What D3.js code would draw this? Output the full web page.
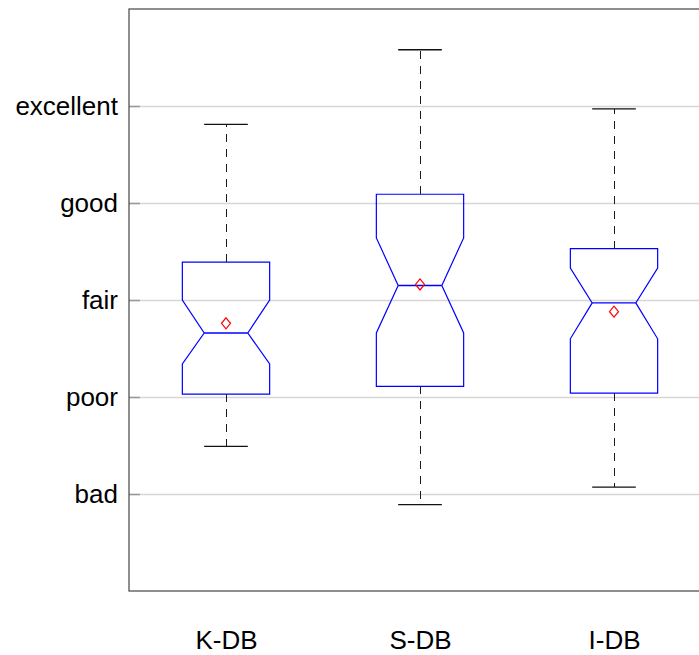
<!DOCTYPE html>
<html>
<head>
<meta charset="utf-8">
<script src="https://cdn.jsdelivr.net/npm/d3@7"></script>
<style>
  body { margin: 0; background: #fff; }
  svg { display: block; font-family: "Liberation Sans", Arial, sans-serif; }
</style>
</head>
<body>
<svg id="chart" width="699" height="655"></svg>
<script>
// data (rating scale: 1 = bad ... 5 = excellent)
var categories = ["K-DB", "S-DB", "I-DB"];
var upperWhisker = [4.81, 5.58, 4.97];
var q3 = [3.39, 4.09, 3.53];
var notchHigh = [3.00, 3.64, 3.33];
var median = [2.66, 3.15, 2.97];
var notchLow = [2.34, 2.66, 2.60];
var q1 = [2.03, 2.11, 2.04];
var lowerWhisker = [1.49, 0.89, 1.07];
var mean = [2.76, 3.16, 2.88];

var ratingTicks = [1, 2, 3, 4, 5];
var ratingLabels = ["bad", "poor", "fair", "good", "excellent"];

var svg = d3.select("#chart");

// plot area runs past the right edge of the window
var plotLeft = 129, plotTop = 9, plotRight = 711, plotBottom = 591;

var x = d3.scaleLinear().domain([0.5, 3.5]).range([plotLeft, plotRight]);
var y = d3.scaleLinear().domain([0, 6]).range([plotBottom, plotTop]);

var boxHalf = 0.225;   // half box width, x units
var notchIn = 0.5;     // notch waist as fraction of box width

// grid lines
svg.append("g")
    .attr("transform", "translate(" + plotLeft + ",0)")
    .call(d3.axisLeft(y).tickValues(ratingTicks).tickSize(-(plotRight - plotLeft)).tickFormat(""))
    .call(function (g) {
        g.select(".domain").remove();
        g.selectAll("line").attr("stroke", "#d6d6d6").attr("stroke-width", 1.5);
    });

// y labels + inward ticks
svg.append("g")
    .attr("transform", "translate(" + plotLeft + ",0)")
    .call(d3.axisLeft(y).tickValues(ratingTicks).tickSize(-11).tickPadding(11)
        .tickFormat(function (d, i) { return ratingLabels[i]; }))
    .call(function (g) {
        g.select(".domain").remove();
        g.selectAll("line").attr("stroke", "#999").attr("stroke-width", 1.5);
        g.selectAll("text").attr("font-size", 26).attr("fill", "#000")
            .attr("font-family", "Liberation Sans, Arial, sans-serif");
    });

// x labels
svg.append("g")
    .attr("transform", "translate(0," + plotBottom + ")")
    .call(d3.axisBottom(x).tickValues([1, 2, 3]).tickSize(0).tickPadding(40)
        .tickFormat(function (d) { return categories[d - 1]; }))
    .call(function (g) {
        g.select(".domain").remove();
        g.selectAll("text").attr("font-size", 26).attr("fill", "#000")
            .attr("font-family", "Liberation Sans, Arial, sans-serif");
    });

// frame
svg.append("rect")
    .attr("x", plotLeft).attr("y", plotTop)
    .attr("width", plotRight - plotLeft).attr("height", plotBottom - plotTop)
    .attr("fill", "none").attr("stroke", "#444").attr("stroke-width", 1.2);

var idx = d3.range(categories.length);
var boxes = svg.append("g").selectAll("g").data(idx).join("g");

// whiskers, dashed from box edge outwards
[[q3, upperWhisker], [q1, lowerWhisker]].forEach(function (pair) {
    boxes.append("line")
        .attr("x1", function (i) { return x(i + 1); })
        .attr("x2", function (i) { return x(i + 1); })
        .attr("y1", function (i) { return y(pair[0][i]); })
        .attr("y2", function (i) { return y(pair[1][i]); })
        .attr("stroke", "#1a1a1a").attr("stroke-dasharray", "8,7")
        .attr("shape-rendering", "crispEdges");
});

// whisker caps
[upperWhisker, lowerWhisker].forEach(function (arr) {
    boxes.append("line")
        .attr("x1", function (i) { return x(i + 1 - boxHalf / 2); })
        .attr("x2", function (i) { return x(i + 1 + boxHalf / 2); })
        .attr("y1", function (i) { return y(arr[i]); })
        .attr("y2", function (i) { return y(arr[i]); })
        .attr("stroke", "#111").attr("stroke-width", 1.3);
});

// notched boxes
boxes.append("path")
    .attr("d", function (i) {
        var c = i + 1;
        var l = x(c - boxHalf), r = x(c + boxHalf);
        var li = x(c - boxHalf * notchIn), ri = x(c + boxHalf * notchIn);
        var p = d3.path();
        p.moveTo(l, y(q3[i]));
        p.lineTo(r, y(q3[i]));
        p.lineTo(r, y(notchHigh[i]));
        p.lineTo(ri, y(median[i]));
        p.lineTo(r, y(notchLow[i]));
        p.lineTo(r, y(q1[i]));
        p.lineTo(l, y(q1[i]));
        p.lineTo(l, y(notchLow[i]));
        p.lineTo(li, y(median[i]));
        p.lineTo(l, y(notchHigh[i]));
        p.closePath();
        return p.toString();
    })
    .attr("fill", "none").attr("stroke", "#0000ff").attr("stroke-width", 1.2);

// median
boxes.append("line")
    .attr("x1", function (i) { return x(i + 1 - boxHalf * notchIn); })
    .attr("x2", function (i) { return x(i + 1 + boxHalf * notchIn); })
    .attr("y1", function (i) { return y(median[i]); })
    .attr("y2", function (i) { return y(median[i]); })
    .attr("stroke", "#0000ff").attr("stroke-width", 1.4);

// mean marker
boxes.append("path")
    .attr("d", function (i) {
        var cx = x(i + 1), cy = y(mean[i]);
        return "M" + cx + "," + (cy - 5.5) + "L" + (cx + 4.5) + "," + cy +
            "L" + cx + "," + (cy + 5.5) + "L" + (cx - 4.5) + "," + cy + "Z";
    })
    .attr("fill", "none").attr("stroke", "#ff0000").attr("stroke-width", 1.2);
</script>
</body>
</html>
